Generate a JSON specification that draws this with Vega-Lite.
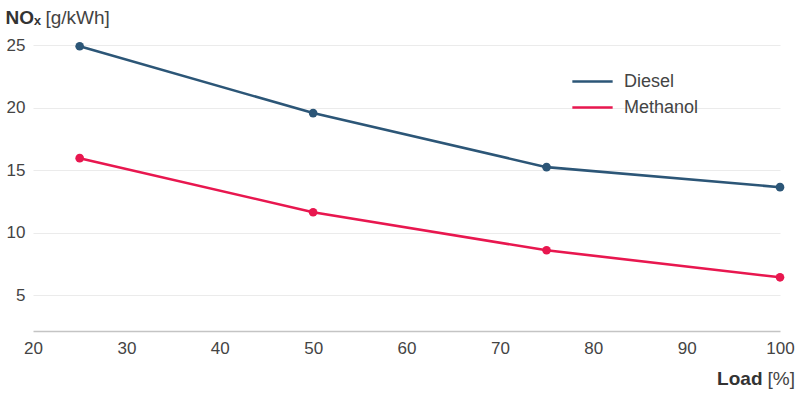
{
  "$schema": "https://vega.github.io/schema/vega-lite/v6.json",
  "width": 747,
  "height": 286,
  "autosize": {"type": "none"},
  "padding": {"left": 33, "top": 45, "right": 28, "bottom": 63},
  "background": "white",
  "config": {
    "font": "Liberation Sans",
    "view": {"stroke": null}
  },
  "data": {
    "values": [
      {"load": 25, "nox": 24.9, "fuel": "Diesel"},
      {"load": 50, "nox": 19.56, "fuel": "Diesel"},
      {"load": 75, "nox": 15.24, "fuel": "Diesel"},
      {"load": 100, "nox": 13.64, "fuel": "Diesel"},
      {"load": 25, "nox": 15.96, "fuel": "Methanol"},
      {"load": 50, "nox": 11.64, "fuel": "Methanol"},
      {"load": 75, "nox": 8.6, "fuel": "Methanol"},
      {"load": 100, "nox": 6.44, "fuel": "Methanol"}
    ]
  },
  "resolve": {"axis": {"x": "independent", "y": "independent"}},
  "layer": [
    {
      "mark": {"type": "line", "strokeWidth": 2.6},
      "encoding": {
        "x": {
          "field": "load",
          "type": "quantitative",
          "scale": {"domain": [20, 100], "nice": false, "zero": false},
          "axis": {
            "orient": "bottom",
            "values": [20, 30, 40, 50, 60, 70, 80, 90, 100],
            "grid": false,
            "ticks": false,
            "labelFlush": false,
            "domainColor": "#c4c4c4",
            "domainWidth": 1.5,
            "labelFontSize": 17,
            "labelColor": "#444444",
            "labelPadding": 9,
            "title": "Load",
            "titleFontSize": 19,
            "titleFontWeight": "bold",
            "titleColor": "#333333",
            "titleAlign": "right",
            "titleAnchor": null,
            "titleX": 729,
            "titleY": 47,
            "titleBaseline": "middle"
          }
        },
        "y": {
          "field": "nox",
          "type": "quantitative",
          "scale": {"domain": [2.15, 25], "nice": false, "zero": false},
          "axis": {
            "orient": "left",
            "values": [5, 10, 15, 20, 25],
            "domain": false,
            "ticks": false,
            "gridColor": "#ebebeb",
            "gridWidth": 1,
            "labelFontSize": 17,
            "labelColor": "#444444",
            "labelPadding": 8,
            "title": "NOₓ",
            "titleFontSize": 19,
            "titleFontWeight": "bold",
            "titleColor": "#333333",
            "titleAngle": 0,
            "titleAlign": "left",
            "titleBaseline": "middle",
            "titleX": -28,
            "titleY": -28
          }
        },
        "color": {
          "field": "fuel",
          "type": "nominal",
          "scale": {"domain": ["Diesel", "Methanol"], "range": ["#2c5677", "#e8174f"]},
          "legend": {
            "title": null,
            "orient": "none",
            "legendX": 545,
            "legendY": 22,
            "symbolType": "M-1.55,0H1.55",
            "symbolSize": 676,
            "symbolStrokeWidth": 2.6,
            "labelFontSize": 18,
            "labelColor": "#444444",
            "labelOffset": 17,
            "rowPadding": 2
          }
        }
      }
    },
    {
      "mark": {"type": "point", "filled": true, "opacity": 1, "size": 75},
      "encoding": {
        "x": {
          "field": "load",
          "type": "quantitative",
          "axis": {
            "orient": "top",
            "labels": false,
            "domain": false,
            "ticks": false,
            "grid": false,
            "title": "[%]",
            "titleFontSize": 19,
            "titleFontWeight": "normal",
            "titleColor": "#444444",
            "titleAlign": "left",
            "titleAnchor": null,
            "titleX": 734,
            "titleY": 333,
            "titleBaseline": "middle"
          }
        },
        "y": {
          "field": "nox",
          "type": "quantitative",
          "axis": {
            "orient": "right",
            "labels": false,
            "domain": false,
            "ticks": false,
            "grid": false,
            "title": "[g/kWh]",
            "titleFontSize": 19,
            "titleFontWeight": "normal",
            "titleColor": "#444444",
            "titleAngle": 0,
            "titleAlign": "left",
            "titleBaseline": "middle",
            "titleX": -735,
            "titleY": -28
          }
        },
        "color": {"field": "fuel", "type": "nominal"}
      }
    }
  ]
}
